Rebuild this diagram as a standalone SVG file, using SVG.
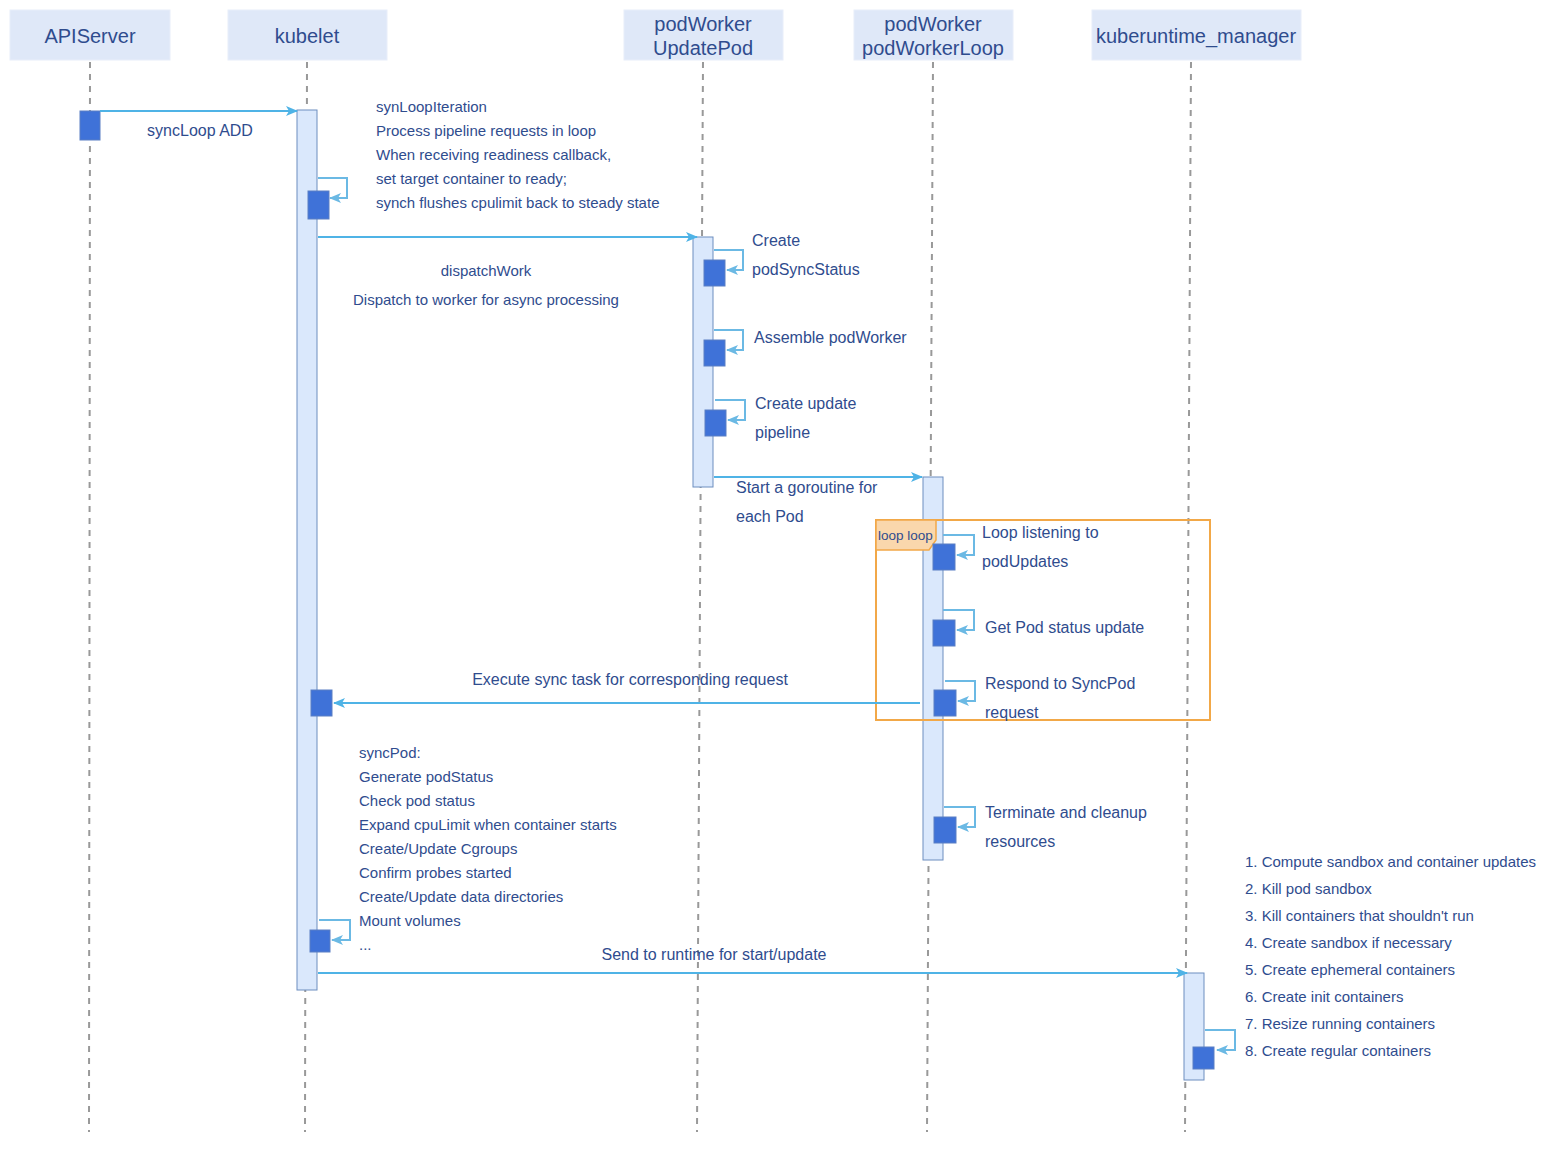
<svg xmlns="http://www.w3.org/2000/svg" width="1560" height="1160" viewBox="0 0 1560 1160">
<defs>
<marker id="ah" viewBox="0 0 12 10" refX="11" refY="5" markerWidth="12" markerHeight="10" markerUnits="userSpaceOnUse" orient="auto">
<path d="M0,0 L12,5 L0,10 L3,5 z" fill="#4fb3e6"/>
</marker>
<marker id="ahs" viewBox="0 0 12 10" refX="11" refY="5" markerWidth="12" markerHeight="10" markerUnits="userSpaceOnUse" orient="auto">
<path d="M0,0 L12,5 L0,10 L3,5 z" fill="#6bb9e4"/>
</marker>
</defs>
<style>
.hdr{fill:#dfe8f8;stroke:#e8eefa;stroke-width:1}
.ht{font-family:"Liberation Sans",Arial,sans-serif;font-size:20px;fill:#2f4c8e;text-anchor:middle}
.life{stroke:#999;stroke-width:2;stroke-dasharray:6 6;fill:none}
.act{fill:#dae8fc;stroke:#6c8ebf;stroke-width:1}
.blk{fill:#3f72d8;stroke:#5a7fc4;stroke-width:1}
.msg{stroke:#4fb3e6;stroke-width:2;fill:none;marker-end:url(#ah)}
.self{stroke:#6bb9e4;stroke-width:2;fill:none;marker-end:url(#ahs)}
.t14{font-family:"Liberation Sans",Arial,sans-serif;font-size:15px;fill:#2f4c8e}
.t15{font-family:"Liberation Sans",Arial,sans-serif;font-size:16px;fill:#2f4c8e}
.t145{font-family:"Liberation Sans",Arial,sans-serif;font-size:15px;fill:#2f4c8e}
.mid{text-anchor:middle}
</style>
<rect width="1560" height="1160" fill="#fff"/>

<g id="lifelines">
<line class="life" x1="90" y1="62" x2="89" y2="1132"/>
<line class="life" x1="307" y1="62" x2="305" y2="1132"/>
<line class="life" x1="703" y1="62" x2="697" y2="1132"/>
<line class="life" x1="933" y1="62" x2="927" y2="1132"/>
<line class="life" x1="1191" y1="62" x2="1185" y2="1132"/>
</g>

<g id="APIServer">
<rect class="hdr" x="10" y="10" width="160" height="50"/>
<text class="ht" x="90" y="43">APIServer</text>
<rect class="blk" x="80" y="111" width="20" height="29"/>
</g>
<g id="kubelet">
<rect class="hdr" x="228" y="10" width="159" height="50"/>
<text class="ht" x="307" y="43">kubelet</text>
<rect class="act" x="297" y="110" width="20" height="880"/>
</g>
<g id="podWorkerUpdatePod">
<rect class="hdr" x="624" y="10" width="159" height="50"/>
<text class="ht" x="703" y="31">podWorker</text>
<text class="ht" x="703" y="55">UpdatePod</text>
<rect class="act" x="693" y="237" width="20" height="250"/>
</g>
<g id="podWorkerLoop">
<rect class="hdr" x="854" y="10" width="159" height="50"/>
<text class="ht" x="933" y="31">podWorker</text>
<text class="ht" x="933" y="55">podWorkerLoop</text>
<rect class="act" x="923" y="477" width="20" height="383"/>
</g>
<g id="kuberuntime_manager">
<rect class="hdr" x="1092" y="10" width="209" height="50"/>
<text class="ht" x="1196" y="43">kuberuntime_manager</text>
<rect class="act" x="1184" y="973" width="20" height="107"/>
</g>

<g id="loop-frame">
<rect x="876" y="520" width="334" height="200" fill="none" stroke="#f2a848" stroke-width="2"/>
<path d="M876,520 L936,520 L936,540 L929,550 L876,550 Z" fill="#fad7ac" stroke="#f2a848" stroke-width="1.5"/>
<text x="878" y="540" font-family="Liberation Sans,Arial,sans-serif" font-size="13.5" fill="#2f4c8e">loop loop</text>
</g>

<g id="connectors">
<line class="msg" x1="100" y1="111" x2="297" y2="111"/>
<path class="self" d="M318,178 H347 V198 H330"/>
<line class="msg" x1="318" y1="237" x2="697" y2="237"/>
<path class="self" d="M714,250 H743 V270 H727"/>
<path class="self" d="M714,330 H743 V350 H727"/>
<path class="self" d="M715,400 H745 V420 H728"/>
<line class="msg" x1="714" y1="477" x2="922" y2="477"/>
<path class="self" d="M943,535 H974 V555 H957"/>
<path class="self" d="M943,610 H974 V630 H957"/>
<path class="self" d="M945,681 H975 V701 H958"/>
<line class="msg" x1="920" y1="703" x2="334" y2="703"/>
<path class="self" d="M944,807 H975 V827 H958"/>
<path class="self" d="M319,920 H350 V940 H332"/>
<line class="msg" x1="318" y1="973" x2="1187" y2="973"/>
<path class="self" d="M1205,1030 H1235 V1050 H1217"/>
</g>

<g id="exec-blocks">
<rect class="blk" x="308" y="191" width="21" height="28"/>
<rect class="blk" x="704" y="260" width="21" height="26"/>
<rect class="blk" x="704" y="340" width="21" height="26"/>
<rect class="blk" x="705" y="410" width="21" height="26"/>
<rect class="blk" x="933" y="544" width="22" height="26"/>
<rect class="blk" x="933" y="620" width="22" height="26"/>
<rect class="blk" x="934" y="690" width="22" height="26"/>
<rect class="blk" x="311" y="690" width="21" height="26"/>
<rect class="blk" x="934" y="817" width="22" height="26"/>
<rect class="blk" x="310" y="930" width="20" height="22"/>
<rect class="blk" x="1193" y="1047" width="21" height="22"/>
</g>

<g id="labels">
<text class="t15 mid" x="200" y="136">syncLoop ADD</text>
<text class="t14" x="376" y="112">synLoopIteration</text>
<text class="t14" x="376" y="136">Process pipeline requests in loop</text>
<text class="t14" x="376" y="160">When receiving readiness callback,</text>
<text class="t14" x="376" y="184">set target container to ready;</text>
<text class="t14" x="376" y="208">synch flushes cpulimit back to steady state</text>
<text class="t14 mid" x="486" y="276">dispatchWork</text>
<text class="t14 mid" x="486" y="305">Dispatch to worker for async processing</text>
<text class="t15" x="752" y="246">Create</text>
<text class="t15" x="752" y="275">podSyncStatus</text>
<text class="t15" x="754" y="343">Assemble podWorker</text>
<text class="t15" x="755" y="409">Create update</text>
<text class="t15" x="755" y="438">pipeline</text>
<text class="t15" x="736" y="493">Start a goroutine for</text>
<text class="t15" x="736" y="522">each Pod</text>
<text class="t15" x="982" y="538">Loop listening to</text>
<text class="t15" x="982" y="567">podUpdates</text>
<text class="t15" x="985" y="633">Get Pod status update</text>
<text class="t15" x="985" y="689">Respond to SyncPod</text>
<text class="t15" x="985" y="718">request</text>
<text class="t15 mid" x="630" y="685">Execute sync task for corresponding request</text>
<text class="t15" x="985" y="818">Terminate and cleanup</text>
<text class="t15" x="985" y="847">resources</text>
<text class="t14" x="359" y="758">syncPod:</text>
<text class="t14" x="359" y="782">Generate podStatus</text>
<text class="t14" x="359" y="806">Check pod status</text>
<text class="t14" x="359" y="830">Expand cpuLimit when container starts</text>
<text class="t14" x="359" y="854">Create/Update Cgroups</text>
<text class="t14" x="359" y="878">Confirm probes started</text>
<text class="t14" x="359" y="902">Create/Update data directories</text>
<text class="t14" x="359" y="926">Mount volumes</text>
<text class="t14" x="359" y="950">...</text>
<text class="t15 mid" x="714" y="960">Send to runtime for start/update</text>
<text class="t145" x="1245" y="867">1. Compute sandbox and container updates</text>
<text class="t145" x="1245" y="894">2. Kill pod sandbox</text>
<text class="t145" x="1245" y="921">3. Kill containers that shouldn't run</text>
<text class="t145" x="1245" y="948">4. Create sandbox if necessary</text>
<text class="t145" x="1245" y="975">5. Create ephemeral containers</text>
<text class="t145" x="1245" y="1002">6. Create init containers</text>
<text class="t145" x="1245" y="1029">7. Resize running containers</text>
<text class="t145" x="1245" y="1056">8. Create regular containers</text>
</g>
</svg>
